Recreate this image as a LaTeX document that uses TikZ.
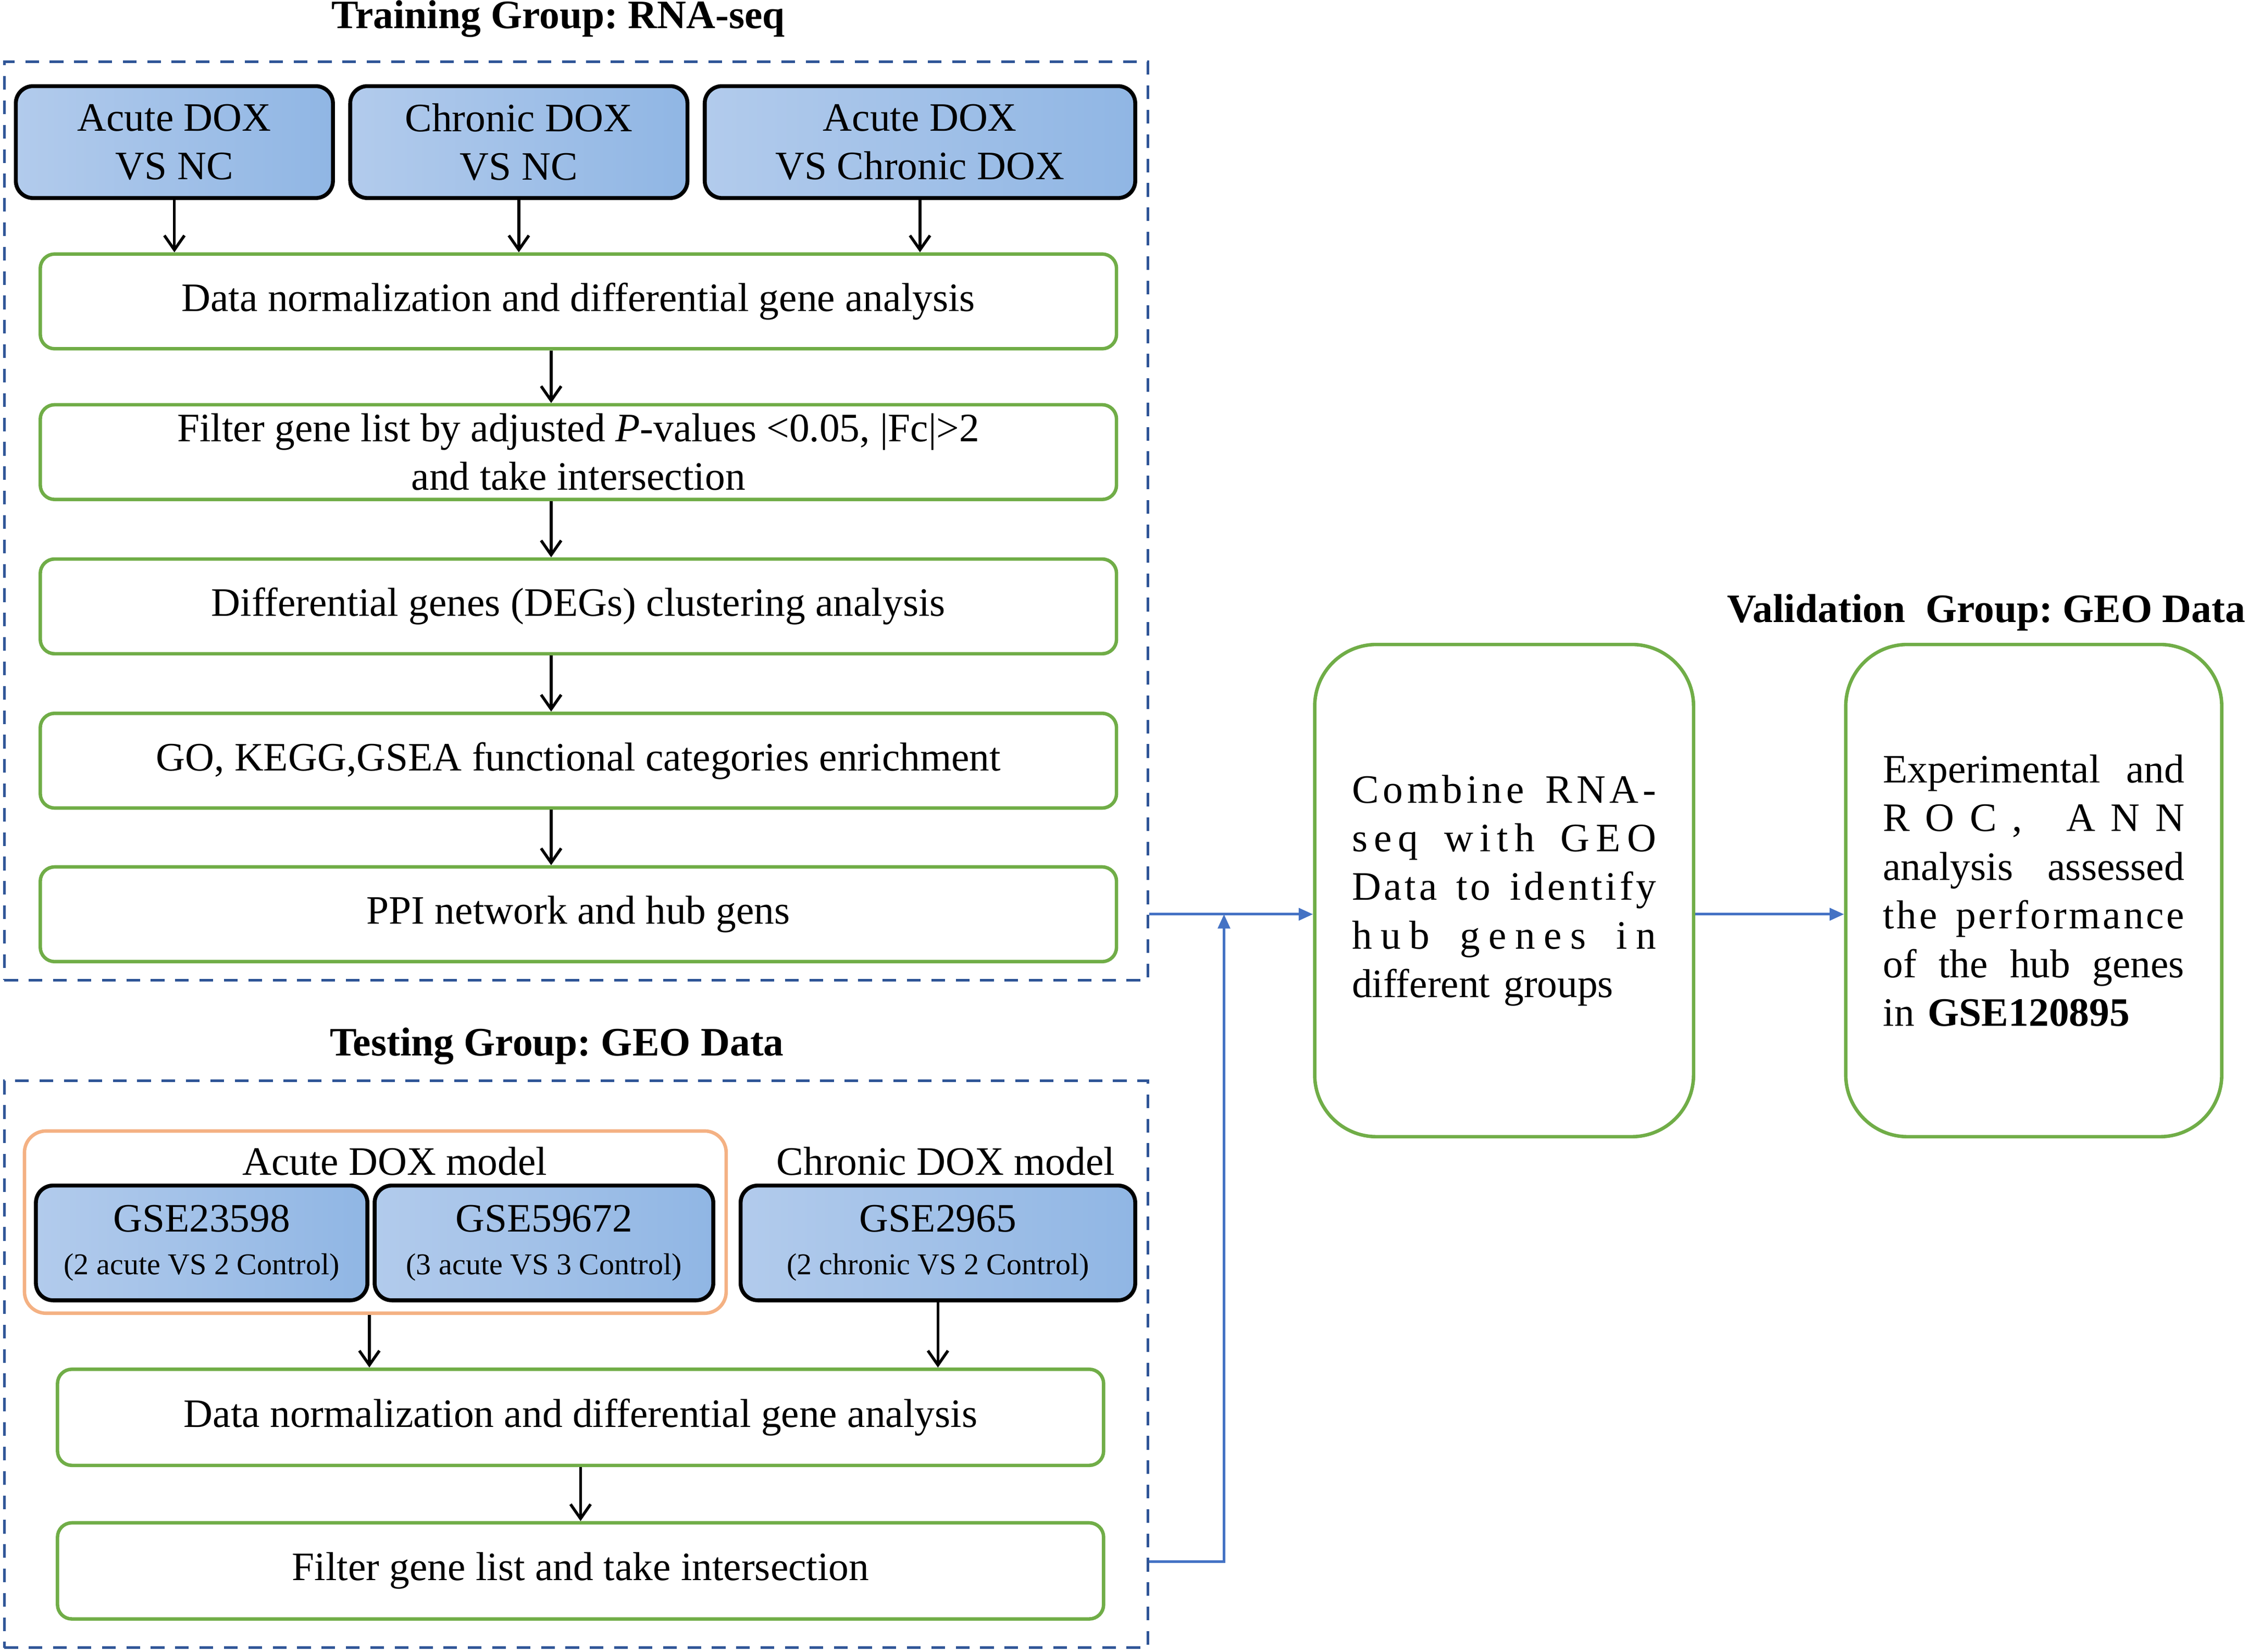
\documentclass[tikz,border=0pt]{standalone}
\usepackage{fontspec}
\setmainfont{Liberation Serif}
\usepackage{tikz}
\usetikzlibrary{arrows.meta}
\frenchspacing

% lines spread over the whole width, word by word or letter by letter (~ is a word space)
\newcommand\fullline[1]{\hbox to \hsize{\spaceskip=0.25em plus 1fil\relax #1}}
\newcommand\spreadline[1]{\hbox to \hsize{\hskip 0pt plus -1fil\spreadloop#1\spreadend}}
\let\spreadend\relax
\def\spreadloop#1{\ifx#1\spreadend\else\hfil#1\expandafter\spreadloop\fi}

\begin{document}
\begin{tikzpicture}[x=0.02cm, y=-0.02cm,
        font=\fontsize{16}{19.3}\selectfont,
        frame/.style={draw=frameblue, line width=0.036cm, dash pattern=on 0.19cm off 0.15cm},
        dataset/.style={draw=black, line width=0.055cm, rounded corners=0.24cm,
            left color=boxlight, right color=boxdark, align=center, inner sep=0pt},
        stepbox/.style={draw=stepgreen, line width=0.048cm, rounded corners=0.2cm,
            align=center, inner sep=0pt},
        bigbox/.style={draw=stepgreen, line width=0.048cm, rounded corners=0.86cm, inner sep=0pt,
            minimum height=6.86cm},
        arr/.style={line width=0.04cm, -{Straight Barb[length=0.2cm,width=0.28cm]}},
        link/.style={draw=linkblue, line width=0.036cm, -{Triangle[length=0.2cm,width=0.17cm]}},
        title/.style={font=\fontsize{16}{19.3}\selectfont\bfseries}]
        \definecolor{frameblue}{RGB}{47,85,151}
        \definecolor{stepgreen}{RGB}{112,173,71}
        \definecolor{modelorange}{RGB}{244,177,131}
        \definecolor{linkblue}{RGB}{68,114,196}
        \definecolor{boxlight}{RGB}{178,203,236}
        \definecolor{boxdark}{RGB}{144,182,228}

        \useasboundingbox (0,0) rectangle (1567,1151);

        % training group
        \node[title] (traint) at (389,13) {Training Group: RNA-seq};
        \node[frame, minimum width=15.94cm, minimum height=12.8cm] (train) at (401.5,363) {};

        \node[dataset, minimum width=4.42cm, minimum height=1.56cm] (acu) at (121.5,99) {Acute DOX\\VS NC};
        \node[dataset, minimum width=4.7cm, minimum height=1.56cm] (chr) at (361.5,99) {Chronic DOX\\VS NC};
        \node[dataset, minimum width=6cm, minimum height=1.56cm] (avc) at (641,99) {Acute DOX\\VS Chronic DOX};

        \node[stepbox, minimum width=15cm, minimum height=1.32cm] (norm1) at (403,210)
            {Data normalization and differential gene analysis};
        \node[stepbox, minimum width=15cm, minimum height=1.32cm] (filt1) at (403,315)
            {Filter gene list by adjusted \textit{P}-values <0.05, |Fc|>2\\and take intersection};
        \node[stepbox, minimum width=15cm, minimum height=1.32cm] (clus) at (403,422.5)
            {Differential genes (DEGs) clustering analysis};
        \node[stepbox, minimum width=15cm, minimum height=1.32cm] (enr) at (403,530)
            {GO, KEGG,GSEA functional categories enrichment};
        \node[stepbox, minimum width=15cm, minimum height=1.32cm] (ppi) at (403,637)
            {PPI network and hub gens};

        \draw[arr] (acu.south) -- (acu.south |- norm1.north);
        \draw[arr] (chr.south) -- (chr.south |- norm1.north);
        \draw[arr] (avc.south) -- (avc.south |- norm1.north);
        \foreach \a/\b in {norm1/filt1, filt1/clus, clus/enr, enr/ppi}
            \draw[arr] ([xshift=-0.38cm]\a.south) -- ([xshift=-0.38cm]\b.north);

        % testing group
        \node[title] (testt) at (388,729) {Testing Group: GEO Data};
        \node[frame, minimum width=15.94cm, minimum height=7.9cm] (test) at (401.5,950.5) {};

        \node[draw=modelorange, line width=0.048cm, rounded corners=0.3cm,
            minimum width=9.78cm, minimum height=2.54cm] (acm) at (261.5,851.5) {};
        \node (acml) at (275,809) {Acute DOX model};
        \node (chml) at (659,809) {Chronic DOX model};

        \node[dataset, minimum width=4.62cm, minimum height=1.6cm] (g1) at (140.5,866)
            {GSE23598\\[-2.3pt]{\fontsize{12}{14}\selectfont (2 acute VS 2 Control)}};
        \node[dataset, minimum width=4.72cm, minimum height=1.6cm] (g2) at (379,866)
            {GSE59672\\[-2.3pt]{\fontsize{12}{14}\selectfont (3 acute VS 3 Control)}};
        \node[dataset, minimum width=5.5cm, minimum height=1.6cm] (g3) at (653.5,866)
            {GSE2965\\[-2.3pt]{\fontsize{12}{14}\selectfont (2 chronic VS 2 Control)}};

        \node[stepbox, minimum width=14.58cm, minimum height=1.34cm] (norm2) at (404.5,987.5)
            {Data normalization and differential gene analysis};
        \node[stepbox, minimum width=14.58cm, minimum height=1.34cm] (filt2) at (404.5,1094.5)
            {Filter gene list and take intersection};

        \draw[arr] (g1.east |- acm.south) -- (g1.east |- norm2.north);
        \draw[arr] (g3.south) -- (g3.south |- norm2.north);
        \draw[arr] (norm2.south) -- (filt2.north);

        % combine and validation
        \node[bigbox, minimum width=5.28cm, text width=4.24cm] (comb) at (1048,620.5) {%
            \spreadline{Combine~RNA-}
            \spreadline{seq~with~GEO}
            \spreadline{Data~to~identify}
            \spreadline{hub~genes~in}
            \hbox{different groups}};
        \node[title] (validt) at (1384,427) {Validation\ \ Group: GEO Data};
        \node[bigbox, minimum width=5.24cm, text width=4.2cm] (exp) at (1417,620.5) {%
            \fullline{Experimental and}
            \spreadline{ROC,~ANN}
            \fullline{analysis assessed}
            \spreadline{the~performance}
            \fullline{of the hub genes}
            \hbox{in \textbf{GSE120895}}};

        \path (train.east |- ppi) ++(52,0) coordinate (join);
        \coordinate (tail) at (test.east |- 0,1088);
        \draw[link] (train.east |- ppi) -- (comb.west |- ppi);
        \draw[link] (tail) -| (join);
        \draw[link] (comb.east |- ppi) -- (exp.west |- ppi);
    \end{tikzpicture}
\end{document}
